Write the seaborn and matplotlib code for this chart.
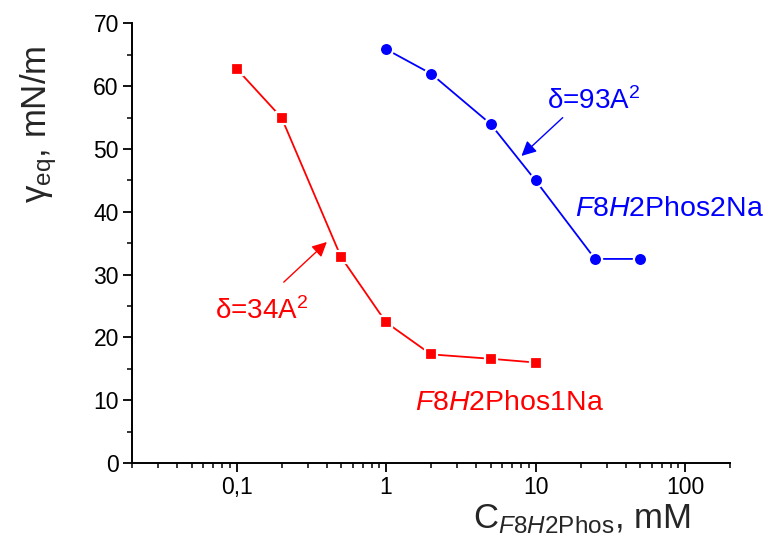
import matplotlib
matplotlib.use("Agg")
import matplotlib.pyplot as plt
import matplotlib.ticker as mticker
import numpy as np
import pandas as pd
import seaborn as sns

# Equilibrium surface tension vs. surfactant concentration
conc_1na = [0.1, 0.2, 0.5, 1, 2, 5, 10]
gamma_1na = [62.8, 55.0, 32.8, 22.4, 17.3, 16.6, 16.0]

conc_2na = [1, 2, 5, 10, 25, 50]
gamma_2na = [65.9, 62.0, 54.0, 45.0, 32.5, 32.5]

x_ticks = [0.1, 1, 10, 100]
y_ticks = [0, 10, 20, 30, 40, 50, 60, 70]

sns.set_style("ticks")
plt.rcParams["font.family"] = ["Liberation Sans", "DejaVu Sans"]
plt.rcParams["mathtext.fontset"] = "custom"
plt.rcParams["mathtext.rm"] = "Liberation Sans"
plt.rcParams["mathtext.it"] = "Liberation Sans:italic"
plt.rcParams["mathtext.bf"] = "Liberation Sans:bold"

RED = "#ff0000"
BLUE = "#0000ff"

fig = plt.figure(figsize=(7.73, 5.44), dpi=100)
ax = fig.add_axes([0.1708, 0.1489, 0.7736, 0.808])

df1 = pd.DataFrame({"c": conc_1na, "g": gamma_1na})
df2 = pd.DataFrame({"c": conc_2na, "g": gamma_2na})

sns.lineplot(data=df1, x="c", y="g", ax=ax, color=RED, lw=1.3,
             marker="s", markersize=8, markeredgecolor="white",
             markeredgewidth=1.6, markerfacecolor=RED)
sns.lineplot(data=df2, x="c", y="g", ax=ax, color=BLUE, lw=1.3,
             marker="o", markersize=9.5, markeredgecolor="white",
             markeredgewidth=1.6, markerfacecolor=BLUE)

ax.set_xscale("log")
ax.set_xlim(0.02, 200)
ax.set_ylim(0, 70)

ax.xaxis.set_major_locator(mticker.FixedLocator(x_ticks))
ax.xaxis.set_minor_locator(mticker.LogLocator(base=10, subs=np.arange(2, 10)))
ax.xaxis.set_minor_formatter(mticker.NullFormatter())
ax.xaxis.set_major_formatter(
    mticker.FuncFormatter(lambda v, p: f"{v:g}".replace(".", ",")))
ax.yaxis.set_major_locator(mticker.FixedLocator(y_ticks))
ax.yaxis.set_minor_locator(mticker.MultipleLocator(5))

for s in ("top", "right"):
    ax.spines[s].set_visible(False)
for s in ("left", "bottom"):
    ax.spines[s].set_linewidth(1.4)
    ax.spines[s].set_color("black")

ax.tick_params(which="major", direction="out", length=6.5, width=1.3,
               labelsize=16.5, colors="black", pad=3)
ax.tick_params(which="minor", direction="out", length=3.5, width=1.1,
               colors="black")

ax.set_xlabel(r"C$_{\mathit{F}8\mathit{H}2\mathrm{Phos}}$, mM", fontsize=25)
ax.xaxis.set_label_coords(0.753, -0.09)
ax.xaxis.label.set_va("top")

ax.set_ylabel(r"γ$_{\mathrm{eq}}$, mN/m", fontsize=25)
ax.yaxis.set_label_coords(-0.157, 0.77)
ax.yaxis.label.set_va("center")

# Molecular area annotations and series names
ax.text(11.9, 56.4, r"δ=93A$^{2}$", color=BLUE, fontsize=20,
        ha="left", va="baseline")
ax.annotate("", xy=(8.05, 48.9), xytext=(15.2, 55.0),
            arrowprops=dict(arrowstyle="-|>", color=BLUE, lw=1.0,
                            mutation_scale=22, shrinkA=0, shrinkB=0))
ax.text(18.4, 39.4, r"$\mathit{F}$8$\mathit{H}$2Phos2Na", color=BLUE,
        fontsize=20.5, ha="left", va="baseline")

ax.text(0.0718, 22.9, r"δ=34A$^{2}$", color=RED, fontsize=20,
        ha="left", va="baseline")
ax.annotate("", xy=(0.402, 35.2), xytext=(0.207, 28.8),
            arrowprops=dict(arrowstyle="-|>", color=RED, lw=1.0,
                            mutation_scale=22, shrinkA=0, shrinkB=0))
ax.text(1.56, 8.5, r"$\mathit{F}$8$\mathit{H}$2Phos1Na", color=RED,
        fontsize=20.5, ha="left", va="baseline")

fig.savefig("out.png", dpi=100)
